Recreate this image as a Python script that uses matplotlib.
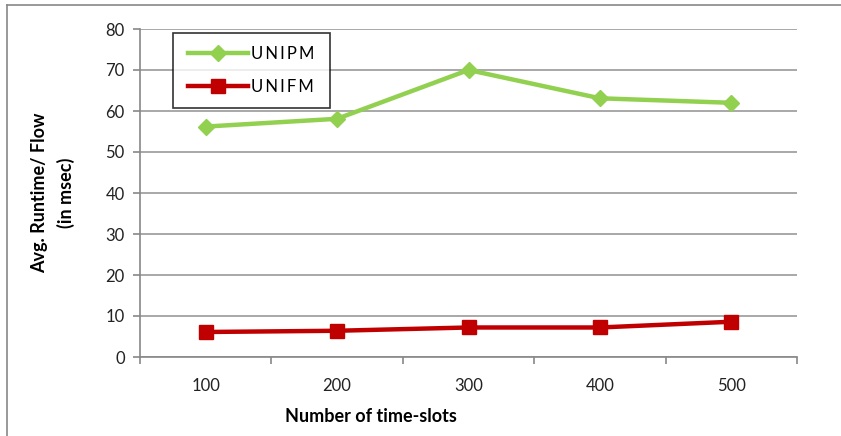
import matplotlib
matplotlib.use('Agg')
import matplotlib.pyplot as plt
from matplotlib.lines import Line2D

slots = ['100', '200', '300', '400', '500']
unipm = [56.2, 58.1, 70.0, 63.1, 62.0]
unifm = [6.1, 6.4, 7.2, 7.2, 8.6]

plt.rcParams['font.family'] = ['Lato', 'DejaVu Sans']

fig = plt.figure(figsize=(8.41, 4.36), dpi=100)
ax = fig.add_axes([140/841, 79/436, 657/841, 328/436])

x = list(range(len(slots)))
ax.plot(x, unipm, color='#92D050', lw=3.2, marker='D', ms=8, label='UNIPM')
ax.plot(x, unifm, color='#C00000', lw=3.2, marker='s', ms=10, label='UNIFM')

ax.set_xlim(-0.5, len(slots) - 0.5)
ax.set_ylim(0, 80)
ax.set_yticks(range(0, 81, 10))
ax.set_xticks(x)
ax.set_xticklabels(slots)
ax.set_xticks([i - 0.5 for i in range(len(slots) + 1)], minor=True)
ax.tick_params(axis='x', which='major', length=0, pad=15, labelsize=12, labelcolor='#222222')
ax.tick_params(axis='x', which='minor', length=5, color='#888888', width=1.2)
ax.tick_params(axis='y', length=5, color='#888888', width=1.2, labelsize=12, labelcolor='#222222', pad=6)

ax.grid(axis='y', color='#999999', lw=1.2)
ax.set_axisbelow(True)
for s in ['top', 'right']:
    ax.spines[s].set_visible(False)
for s in ['left', 'bottom']:
    ax.spines[s].set_color('#888888')
    ax.spines[s].set_linewidth(1.2)

leg = ax.legend(loc='upper left', bbox_to_anchor=((173-140)/657, (357-33)/328),
                frameon=True, fancybox=False, fontsize=12, handlelength=3.6,
                borderpad=0.8, labelspacing=1.0, borderaxespad=0, handletextpad=0.2)
leg.get_frame().set_edgecolor('black')
leg.get_frame().set_linewidth(1.2)
for t in leg.get_texts():
    t.set_text(' '.join(t.get_text()).replace(' ', '\u2009'))
leg._legend_box.set_width(130)

fig.text(371/841, 1 - 416/436, 'Number of time-slots', ha='center', va='center',
         fontsize=13, fontweight='bold')
fig.text(53/841, 1 - 193/436, 'Avg. Runtime/ Flow\n(in msec)', ha='center', va='center',
         rotation=90, fontsize=13, fontweight='bold', linespacing=1.55)

# outer chart frame (only left and top edges visible)
fig.add_artist(Line2D([7/841, 7/841], [0, 1 - 5/436], color='#888888', lw=1.2))
fig.add_artist(Line2D([7/841, 1], [1 - 5/436, 1 - 5/436], color='#888888', lw=1.2))

fig.savefig('out.png', dpi=100)
